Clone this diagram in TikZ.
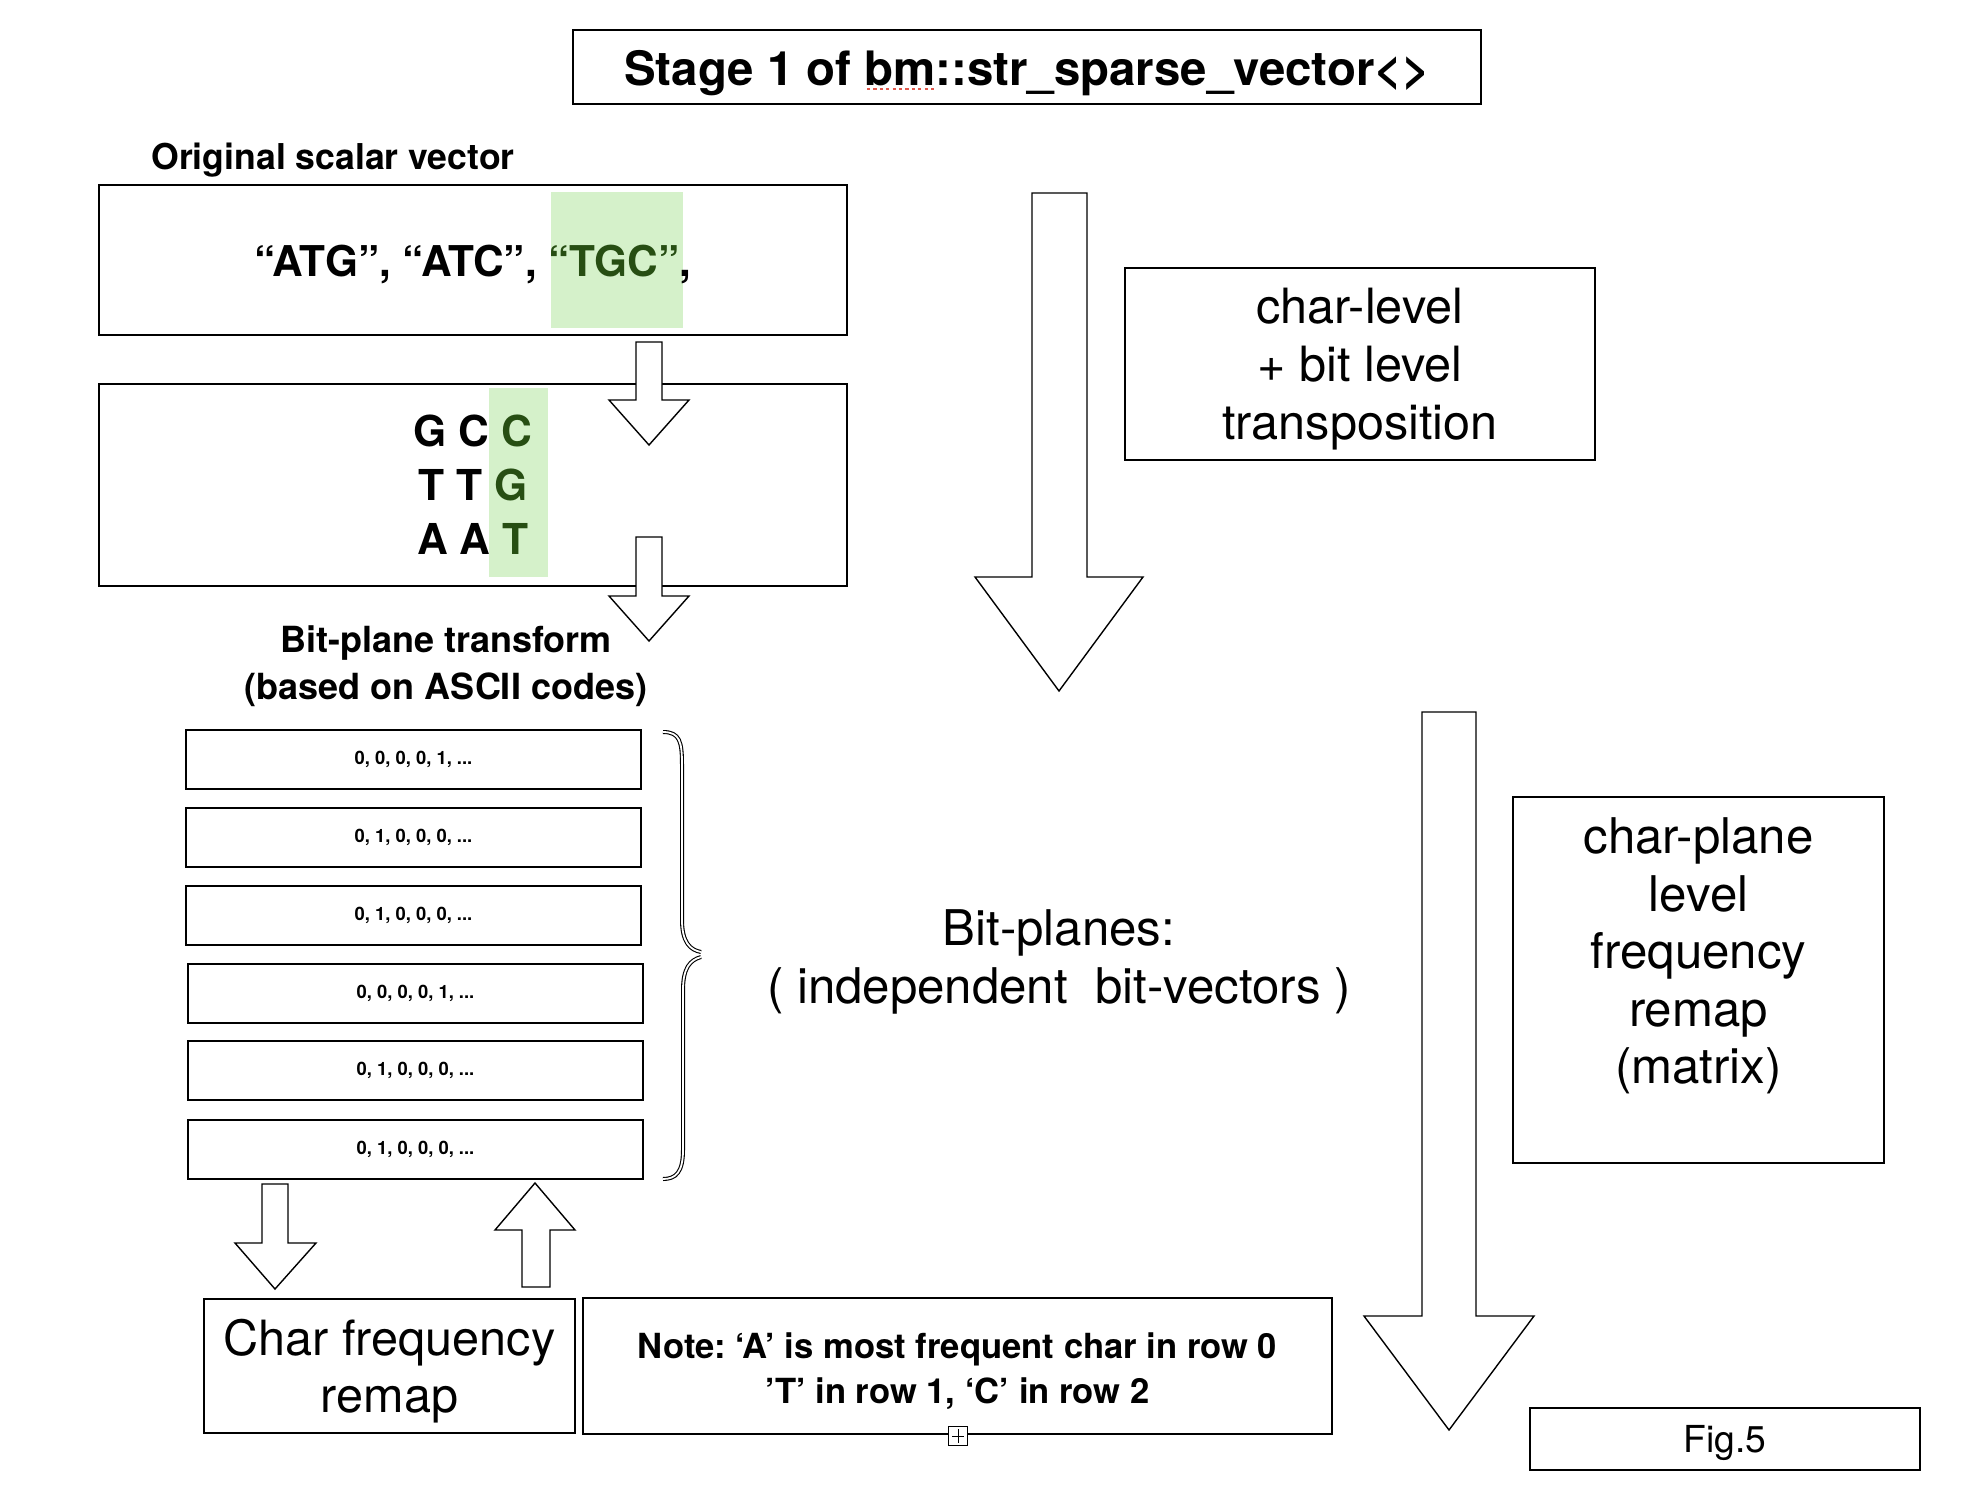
\documentclass[tikz,border=0pt]{standalone}
\usepackage{fontspec}
\setmainfont{TeX Gyre Heros}
\frenchspacing
\definecolor{hlfill}{RGB}{213,241,202}
\definecolor{hltext}{RGB}{39,78,19}
\definecolor{spellred}{RGB}{226,88,76}
\tikzset{
  box/.style={draw, line width=1pt, inner sep=0pt},
  blockarrow/.style={draw, line width=0.7pt, fill=white, line join=miter},
  planebox/.style={box, minimum width=227.5pt, minimum height=29.5pt, font=\bfseries\fontsize{9.2}{11}\selectfont},
  bigtext/.style={font=\fontsize{24.3}{28.8}\selectfont, align=center},
  hdr/.style={font=\bfseries\fontsize{18}{23.5}\selectfont, align=center},
  chars/.style={font=\bfseries\fontsize{21.3}{24}\selectfont},
  bracepart/.style={double, line width=0.55pt, double distance=0.9pt},
}
\begin{document}
\begin{tikzpicture}[x=0.5pt, y=-0.5pt]
    \useasboundingbox (0,0) rectangle (1966,1500);

    \fill[hlfill] (551,192) rectangle (683,328);
    \fill[hlfill] (489,388) rectangle (548,577);

    \node[box, minimum width=454pt, minimum height=37pt] (title) at (1027,67) {};
    \node[font=\bfseries\fontsize{23.7}{28}\selectfont] (titletext) at (1027,73) {Stage 1 of bm::str\_sparse\_vector<>};
    \draw[spellred, line width=1.3pt, dash pattern=on 1.6pt off 1.6pt] (867,89) -- (934,89);

    \node[hdr, font=\bfseries\fontsize{17.8}{21}\selectfont] (origlabel) at (333,160) {Original scalar vector};
    \node[box, minimum width=374pt, minimum height=75pt] (orig) at (473,260) {};
    \node[font=\bfseries\fontsize{21.2}{24}\selectfont] (origtext) at (473,264) {“ATG”, “ATC”, \textcolor{hltext}{“TGC”},};

    \node[box, minimum width=374pt, minimum height=101pt] (trans) at (473,485) {};
    \node[chars] (row0) at (473,431) {G C \textcolor{hltext}{C}};
    \node[chars] (row1) at (473,485) {T T \textcolor{hltext}{G}};
    \node[chars] (row2) at (473,539) {A A \textcolor{hltext}{T}};

    \draw[blockarrow] (636,342) -- (636,400) -- (609,400) -- (649,445) -- (689,400) -- (662,400) -- (662,342) -- cycle;
    \draw[blockarrow] (636,537) -- (636,596) -- (609,596) -- (649,641) -- (689,596) -- (662,596) -- (662,537) -- cycle;

    \node[hdr] (bplabel) at (446,666) {Bit-plane transform\\(based on ASCII codes)};

    \node[planebox] (plane1) at (413.5,759.5) {0, 0, 0, 0, 1, ...};
    \node[planebox] (plane2) at (413.5,837.5) {0, 1, 0, 0, 0, ...};
    \node[planebox] (plane3) at (413.5,915.5) {0, 1, 0, 0, 0, ...};
    \node[planebox] (plane4) at (415.5,993.5) {0, 0, 0, 0, 1, ...};
    \node[planebox] (plane5) at (415.5,1070.5) {0, 1, 0, 0, 0, ...};
    \node[planebox] (plane6) at (415.5,1149) {0, 1, 0, 0, 0, ...};

    \draw[bracepart] (663,732) .. controls (680,732) and (682,742) .. (682,765) -- (682,920) .. controls (682,942) and (690,950) .. (701,952);
    \draw[bracepart] (701,957) .. controls (690,960) and (683,968) .. (683,990) -- (683,1150) .. controls (683,1172) and (676,1179) .. (663,1179);

    \node[bigtext, font=\fontsize{24.6}{28.8}\selectfont] (bplanes) at (1059,962) {Bit-planes:\\( independent\ \ bit-vectors )};

    \draw[blockarrow] (1032,193) -- (1032,577) -- (975,577) -- (1059,691) -- (1143,577) -- (1087,577) -- (1087,193) -- cycle;
    \node[box, minimum width=235pt, minimum height=96pt] (level) at (1360,364) {};
    \node[bigtext] (leveltext) at (1360,369) {char-level\\+ bit level\\transposition};

    \draw[blockarrow] (1422,712) -- (1422,1316) -- (1364,1316) -- (1449,1430) -- (1534,1316) -- (1476,1316) -- (1476,712) -- cycle;
    \node[box, minimum width=185.5pt, minimum height=183pt] (remap) at (1698.5,980) {};
    \node[bigtext, font=\fontsize{24.6}{28.8}\selectfont] (remaptext) at (1698.5,956) {char-plane\\level\\frequency\\remap\\(matrix)};

    \draw[blockarrow] (262,1184) -- (262,1243) -- (235,1243) -- (275,1289) -- (316,1243) -- (288,1243) -- (288,1184) -- cycle;
    \draw[blockarrow] (522,1287) -- (522,1230) -- (495,1230) -- (535,1183) -- (575,1230) -- (550,1230) -- (550,1287) -- cycle;

    \node[box, minimum width=185.5pt, minimum height=67pt] (freq) at (389.5,1366) {};
    \node[bigtext] (freqtext) at (389.5,1371) {Char frequency\\remap};
    \node[box, minimum width=374.5pt, minimum height=68pt] (note) at (957.5,1366) {};
    \node[font=\bfseries\fontsize{17.3}{22.5}\selectfont, align=center] (notetext) at (957.5,1371) {Note: ‘A’ is most frequent char in row 0\\’T’ in row 1, ‘C’ in row 2};
    \node[draw, fill=white, line width=0.6pt, minimum size=9.5pt, inner sep=0pt] (plus) at (958,1436) {};
    \draw[line width=0.5pt] ([xshift=-3pt]plus.center) -- ([xshift=3pt]plus.center);
    \draw[line width=0.5pt] ([yshift=-3.5pt]plus.center) -- ([yshift=3.5pt]plus.center);

    \node[box, minimum width=195pt, minimum height=31pt] (fig) at (1725,1439) {};
    \node[font=\fontsize{18.6}{22}\selectfont] (figtext) at (1725,1443) {Fig.5};
\end{tikzpicture}
\end{document}
